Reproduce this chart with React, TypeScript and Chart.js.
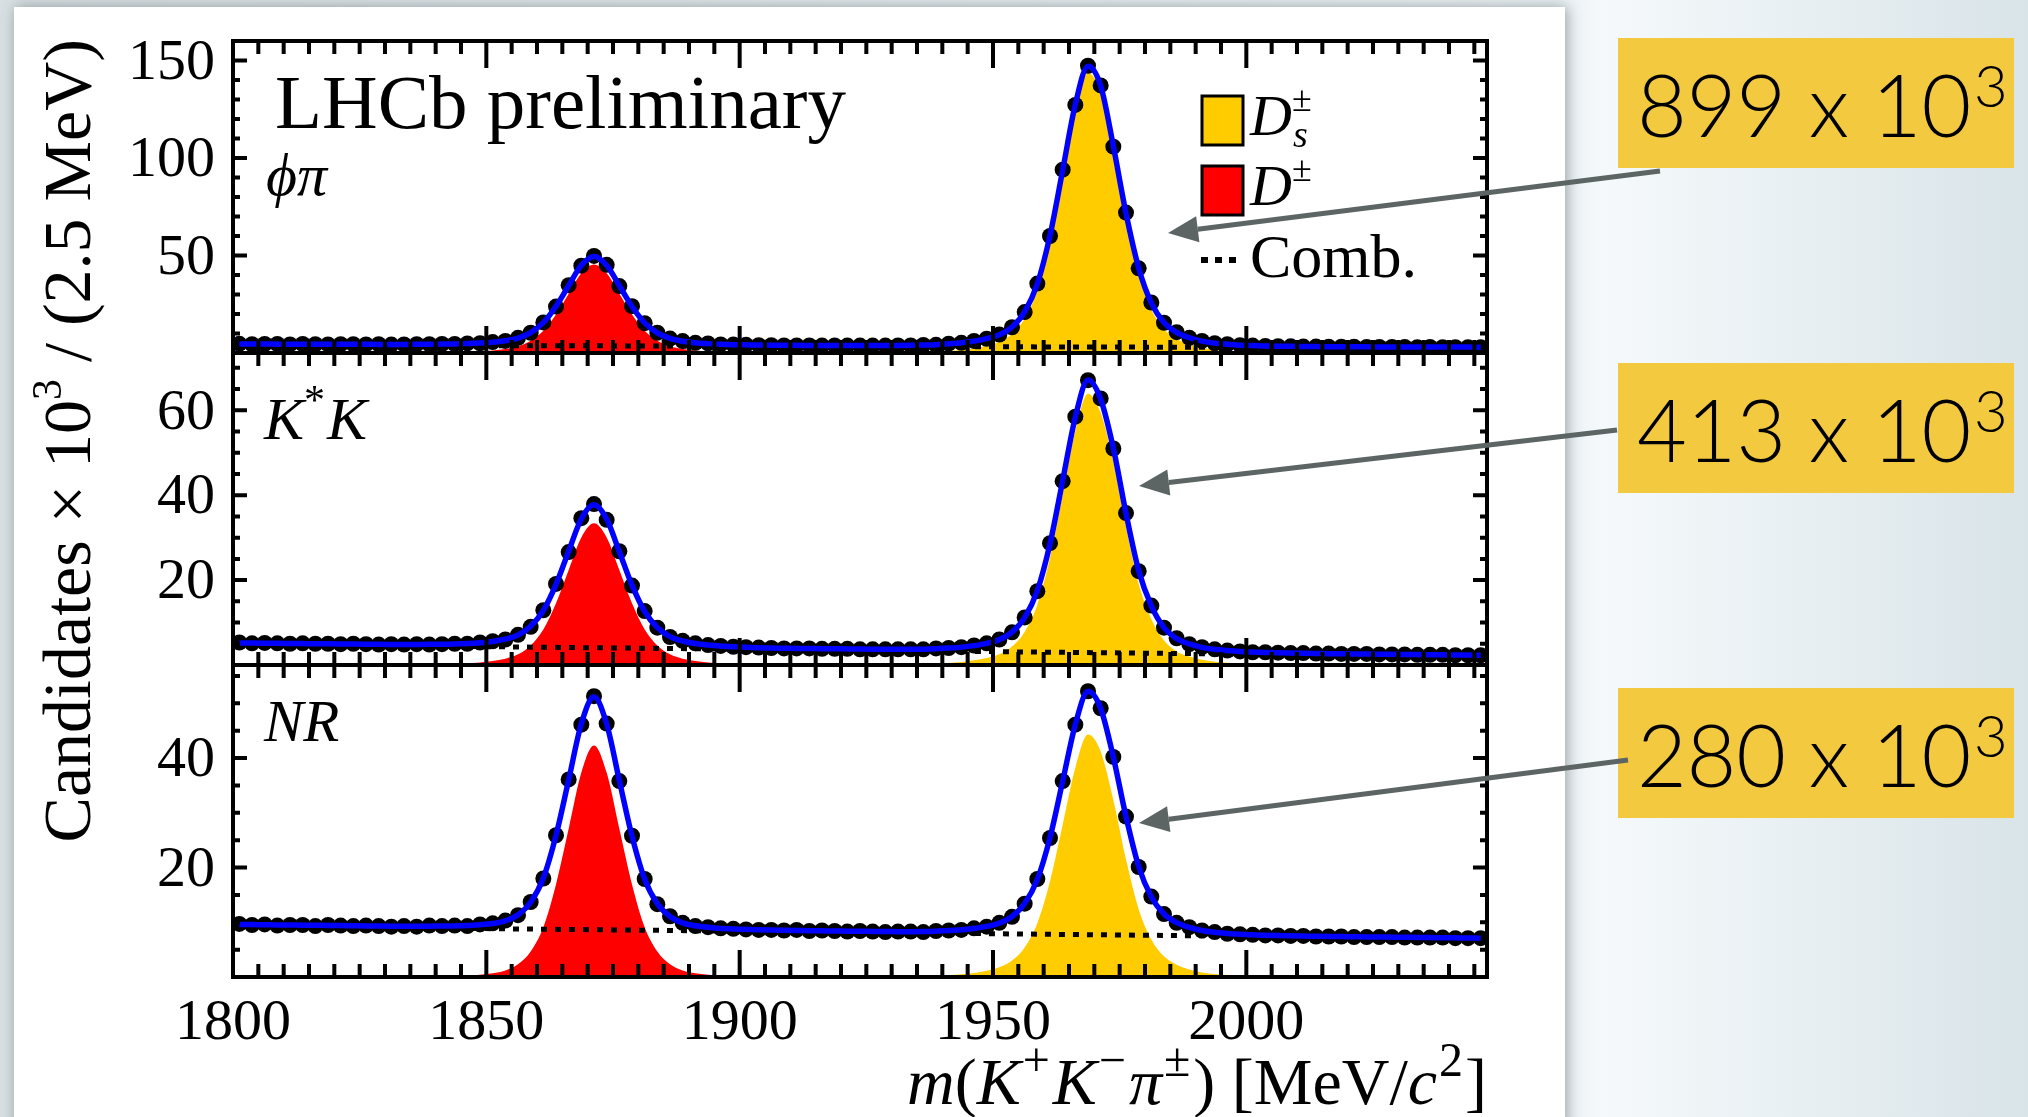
import React, { useEffect, useRef } from 'react';
import { Chart, registerables } from 'chart.js';

Chart.register(...registerables);

const W = 2028;
const H = 1117;
const SERIF = '"Liberation Serif", "Times New Roman", Times, serif';
const SANS = '"Lato Light", Lato, "Open Sans", "Noto Sans", sans-serif';

// ---------- data ----------
const binCenters = [
  1801.25, 1803.75, 1806.25, 1808.75, 1811.25, 1813.75, 1816.25, 1818.75, 1821.25, 1823.75,
  1826.25, 1828.75, 1831.25, 1833.75, 1836.25, 1838.75, 1841.25, 1843.75, 1846.25, 1848.75,
  1851.25, 1853.75, 1856.25, 1858.75, 1861.25, 1863.75, 1866.25, 1868.75, 1871.25, 1873.75,
  1876.25, 1878.75, 1881.25, 1883.75, 1886.25, 1888.75, 1891.25, 1893.75, 1896.25, 1898.75,
  1901.25, 1903.75, 1906.25, 1908.75, 1911.25, 1913.75, 1916.25, 1918.75, 1921.25, 1923.75,
  1926.25, 1928.75, 1931.25, 1933.75, 1936.25, 1938.75, 1941.25, 1943.75, 1946.25, 1948.75,
  1951.25, 1953.75, 1956.25, 1958.75, 1961.25, 1963.75, 1966.25, 1968.75, 1971.25, 1973.75,
  1976.25, 1978.75, 1981.25, 1983.75, 1986.25, 1988.75, 1991.25, 1993.75, 1996.25, 1998.75,
  2001.25, 2003.75, 2006.25, 2008.75, 2011.25, 2013.75, 2016.25, 2018.75, 2021.25, 2023.75,
  2026.25, 2028.75, 2031.25, 2033.75, 2036.25, 2038.75, 2041.25, 2043.75, 2046.25,
];

// phi pi panel
const dataPhiPi = [
  4.7, 4.5, 4.6, 4.6, 4.4, 4.6, 4.5, 4.4, 4.5, 4.5,
  4.4, 4.5, 4.3, 4.4, 4.5, 4.5, 4.6, 4.6, 4.9, 5.0,
  5.6, 6.2, 7.8, 10.4, 15.7, 23.8, 34.8, 44.8, 49.8, 45.2,
  34.3, 24.0, 15.3, 10.4, 7.4, 6.1, 5.2, 4.9, 4.4, 4.3,
  4.2, 4.0, 4.0, 3.9, 3.9, 3.9, 3.8, 3.9, 3.8, 3.8,
  3.8, 3.8, 3.9, 3.9, 4.1, 4.2, 4.8, 5.2, 6.2, 7.3,
  9.5, 13.2, 21.0, 35.6, 60.0, 94.0, 127.2, 147.3, 137.2, 105.8,
  72.0, 43.4, 25.9, 15.5, 10.7, 7.8, 6.2, 5.0, 4.5, 4.0,
  3.8, 3.6, 3.5, 3.4, 3.3, 3.3, 3.2, 3.2, 3.2, 3.1,
  3.1, 3.1, 3.1, 3.0, 3.1, 3.0, 3.0, 3.0, 3.0,
];
const fitPhiPi = [
  4.60, 4.58, 4.57, 4.55, 4.53, 4.52, 4.50, 4.49, 4.47, 4.45,
  4.44, 4.42, 4.41, 4.41, 4.43, 4.48, 4.57, 4.64, 4.81, 5.11,
  5.54, 6.30, 7.65, 10.49, 15.56, 23.94, 34.60, 45.02, 49.54, 44.99,
  34.53, 23.84, 15.43, 10.33, 7.45, 6.07, 5.28, 4.81, 4.48, 4.28,
  4.18, 4.08, 4.01, 3.96, 3.92, 3.89, 3.86, 3.84, 3.82, 3.81,
  3.80, 3.82, 3.85, 3.93, 4.06, 4.27, 4.70, 5.25, 6.09, 7.37,
  9.36, 13.36, 21.11, 35.45, 60.27, 93.72, 127.45, 147.11, 137.04, 106.14,
  71.67, 43.65, 25.68, 15.62, 10.57, 7.83, 6.09, 5.06, 4.48, 4.03,
  3.80, 3.62, 3.50, 3.40, 3.33, 3.27, 3.23, 3.20, 3.17, 3.15,
  3.13, 3.11, 3.10, 3.08, 3.07, 3.05, 3.03, 3.02, 3.00,
];
const dPhiPi = [0.23, 0.32, 0.50, 0.82, 1.27, 2.04, 3.41, 6.27, 11.35, 19.75, 30.42, 40.86, 45.40, 40.86, 30.42, 19.75, 11.35, 6.27, 3.41, 2.04, 1.27, 0.82, 0.50, 0.32, 0.23];
const dsPhiPi = [0.57, 1.01, 1.58, 2.44, 3.73, 5.74, 9.76, 17.52, 31.88, 56.72, 90.18, 123.93, 143.60, 133.55, 102.67, 68.21, 40.21, 22.26, 12.21, 7.18, 4.45, 2.73, 1.72, 1.15, 0.72];
const combPhiPi = [4.1, 2.6];

// K*K panel
const dataKK = [
  5.3, 5.1, 5.2, 5.1, 5.0, 5.1, 5.0, 5.0, 4.9, 5.0,
  4.9, 4.8, 4.9, 4.8, 4.9, 4.8, 4.9, 5.0, 5.0, 5.3,
  5.6, 6.0, 7.1, 9.0, 12.9, 19.1, 26.6, 34.6, 37.9, 34.2,
  26.8, 18.7, 12.7, 8.8, 6.6, 5.7, 5.1, 4.7, 4.5, 4.3,
  4.2, 4.1, 4.0, 3.9, 3.9, 3.9, 3.8, 3.8, 3.8, 3.7,
  3.7, 3.7, 3.7, 3.7, 3.7, 3.9, 4.0, 4.2, 4.6, 5.1,
  6.0, 7.7, 11.2, 17.4, 28.7, 43.3, 58.5, 67.1, 62.8, 51.0,
  35.8, 22.1, 14.0, 8.8, 6.3, 4.9, 4.2, 3.7, 3.4, 3.2,
  3.0, 3.0, 2.9, 2.8, 2.8, 2.7, 2.7, 2.6, 2.6, 2.6,
  2.5, 2.5, 2.5, 2.4, 2.4, 2.4, 2.3, 2.3, 2.3,
];
const fitKK = [
  5.20, 5.17, 5.14, 5.11, 5.08, 5.05, 5.02, 4.99, 4.96, 4.93,
  4.90, 4.87, 4.85, 4.84, 4.84, 4.86, 4.90, 4.93, 5.04, 5.24,
  5.55, 6.08, 7.06, 9.13, 12.84, 18.99, 26.81, 34.46, 37.77, 34.40,
  26.69, 18.81, 12.60, 8.83, 6.70, 5.66, 5.07, 4.71, 4.45, 4.28,
  4.19, 4.05, 3.99, 3.95, 3.91, 3.88, 3.85, 3.82, 3.79, 3.76,
  3.72, 3.70, 3.69, 3.69, 3.72, 3.83, 3.99, 4.21, 4.57, 5.11,
  5.98, 7.75, 11.17, 17.53, 28.55, 43.41, 58.40, 67.12, 62.62, 51.09,
  35.72, 22.27, 13.93, 8.79, 6.21, 4.96, 4.16, 3.69, 3.40, 3.18,
  3.05, 2.96, 2.89, 2.83, 2.77, 2.72, 2.67, 2.63, 2.60, 2.57,
  2.54, 2.51, 2.48, 2.45, 2.42, 2.39, 2.36, 2.33, 2.30,
];
const dKK = [0.17, 0.23, 0.37, 0.60, 0.94, 1.50, 2.51, 4.61, 8.35, 14.53, 22.38, 30.06, 33.40, 30.06, 22.38, 14.53, 8.35, 4.61, 2.51, 1.50, 0.94, 0.60, 0.37, 0.23, 0.17];
const dsKK = [0.26, 0.45, 0.70, 1.09, 1.66, 2.56, 4.35, 7.80, 14.19, 25.24, 40.13, 55.15, 63.90, 59.43, 47.93, 32.59, 19.17, 10.86, 5.75, 3.20, 1.98, 1.21, 0.77, 0.51, 0.32];
const combKK = [4.9, 2.0];

// NR panel
const dataNR = [
  9.7, 9.5, 9.6, 9.4, 9.5, 9.5, 9.3, 9.5, 9.4, 9.3,
  9.4, 9.3, 9.2, 9.3, 9.2, 9.4, 9.3, 9.4, 9.3, 9.6,
  9.8, 10.3, 11.3, 13.7, 18.0, 25.9, 36.1, 46.1, 51.3, 46.3,
  35.8, 25.8, 17.9, 13.3, 11.1, 9.9, 9.3, 9.1, 8.9, 8.8,
  8.7, 8.6, 8.6, 8.5, 8.6, 8.4, 8.5, 8.4, 8.3, 8.4,
  8.3, 8.2, 8.3, 8.3, 8.2, 8.4, 8.5, 8.6, 8.9, 9.2,
  9.9, 11.0, 13.4, 17.9, 25.4, 35.8, 46.1, 52.2, 49.1, 40.2,
  29.3, 20.1, 14.7, 11.5, 9.9, 9.1, 8.5, 8.2, 7.9, 7.8,
  7.7, 7.6, 7.6, 7.5, 7.5, 7.4, 7.4, 7.4, 7.3, 7.3,
  7.3, 7.3, 7.2, 7.2, 7.2, 7.2, 7.1, 7.1, 7.1,
];
const fitNR = [
  9.60, 9.57, 9.55, 9.52, 9.50, 9.47, 9.45, 9.42, 9.40, 9.37,
  9.34, 9.32, 9.29, 9.28, 9.28, 9.29, 9.32, 9.34, 9.39, 9.54,
  9.77, 10.24, 11.37, 13.66, 18.08, 25.88, 36.01, 46.26, 51.19, 46.21,
  35.90, 25.73, 17.87, 13.41, 11.06, 9.89, 9.36, 9.08, 8.88, 8.78,
  8.71, 8.64, 8.58, 8.54, 8.50, 8.46, 8.43, 8.40, 8.38, 8.35,
  8.32, 8.30, 8.28, 8.27, 8.30, 8.38, 8.48, 8.64, 8.87, 9.24,
  9.84, 11.05, 13.42, 17.82, 25.47, 35.76, 46.15, 52.19, 49.07, 40.18,
  29.30, 20.19, 14.63, 11.51, 9.93, 9.06, 8.50, 8.17, 7.96, 7.80,
  7.70, 7.63, 7.57, 7.52, 7.48, 7.44, 7.41, 7.38, 7.36, 7.33,
  7.30, 7.28, 7.25, 7.23, 7.20, 7.18, 7.15, 7.13, 7.10,
];
const dNR = [0.13, 0.17, 0.25, 0.42, 0.68, 1.18, 2.33, 4.65, 9.09, 16.92, 27.07, 37.35, 42.30, 37.35, 27.07, 16.92, 9.09, 4.65, 2.33, 1.18, 0.68, 0.42, 0.25, 0.17, 0.13];
const dsNR = [0.18, 0.31, 0.49, 0.75, 1.15, 1.77, 3.01, 5.40, 9.83, 17.50, 27.82, 38.23, 44.30, 41.20, 32.34, 21.49, 12.40, 6.87, 3.77, 2.22, 1.37, 0.84, 0.53, 0.35, 0.22];
const combNR = [9.3, 7.0];

const combMass = [1800, 2047.5];
const D_START = 16;
const DS_START = 55;

const xTickValues = [1800, 1850, 1900, 1950, 2000];
const xTickLabels = ['1800', '1850', '1900', '1950', '2000'];
const yTickValuesPhiPi = [50, 100, 150];
const yTickValuesKK = [20, 40, 60];
const yTickValuesNR = [20, 40];
const yieldLabels = ['899', '413', '280'];

// ---------- panel setup ----------
const panels = [
  { id: 'yNR', max: 57, major: 20, minor: 5, weight: 1, labels: yTickValuesNR, data: dataNR, fit: fitNR, d: dNR, ds: dsNR, comb: combNR },
  { id: 'yKK', max: 73.5, major: 20, minor: 5, weight: 2, labels: yTickValuesKK, data: dataKK, fit: fitKK, d: dKK, ds: dsKK, comb: combKK },
  { id: 'yPhi', max: 160, major: 50, minor: 10, weight: 3, labels: yTickValuesPhiPi, data: dataPhiPi, fit: fitPhiPi, d: dPhiPi, ds: dsPhiPi, comb: combPhiPi },
];

const X_MIN = 1800;
const X_MAX = 2047.5;

function buildDatasets() {
  const out: any[] = [];
  panels.forEach((p) => {
    out.push({
      label: 'fit', yAxisID: p.id, order: 0,
      data: binCenters.map((x, i) => ({ x, y: p.fit[i] })),
      borderColor: '#0000ff', borderWidth: 5.5, pointRadius: 0, fill: false,
      cubicInterpolationMode: 'monotone',
    });
    out.push({
      label: 'data', yAxisID: p.id, order: 1,
      data: binCenters.map((x, i) => ({ x, y: p.data[i] })),
      showLine: false, pointRadius: 8, pointBackgroundColor: '#000', pointBorderWidth: 0,
      borderColor: '#000',
    });
    out.push({
      label: 'comb', yAxisID: p.id, order: 2,
      data: combMass.map((x, i) => ({ x, y: p.comb[i] })),
      borderColor: '#000', borderWidth: 5, borderDash: [6, 8], pointRadius: 0, fill: false,
    });
    out.push({
      label: 'Ds', yAxisID: p.id, order: 3,
      data: p.ds.map((v, i) => ({ x: binCenters[DS_START + i], y: v })),
      borderColor: 'rgba(0,0,0,0)', borderWidth: 1, backgroundColor: '#ffcc00', fill: 'origin',
      pointRadius: 0, cubicInterpolationMode: 'monotone',
    });
    out.push({
      label: 'D', yAxisID: p.id, order: 4,
      data: p.d.map((v, i) => ({ x: binCenters[D_START + i], y: v })),
      borderColor: 'rgba(0,0,0,0)', borderWidth: 1, backgroundColor: '#ff0000', fill: 'origin',
      pointRadius: 0, cubicInterpolationMode: 'monotone',
    });
  });
  return out;
}

type Run = { t: string; it?: boolean; sup?: boolean; sub?: boolean; gap?: number };

function runFont(r: Run, size: number, supScale: number) {
  const s = r.sup || r.sub ? Math.round(size * supScale) : size;
  return `${r.it ? 'italic ' : ''}${s}px ${SERIF}`;
}
function runsWidth(ctx: CanvasRenderingContext2D, runs: Run[], size: number, supScale = 0.62) {
  let w = 0;
  runs.forEach((r) => { ctx.font = runFont(r, size, supScale); w += ctx.measureText(r.t).width + (r.gap || 0); });
  return w;
}
function drawRuns(ctx: CanvasRenderingContext2D, runs: Run[], x: number, y: number, size: number, supScale = 0.62) {
  let cx = x;
  runs.forEach((r) => {
    ctx.font = runFont(r, size, supScale);
    const dy = r.sup ? -size * 0.42 : r.sub ? size * 0.2 : 0;
    ctx.fillText(r.t, cx, y + dy);
    cx += ctx.measureText(r.t).width + (r.gap || 0);
  });
}

function drawArrow(ctx: CanvasRenderingContext2D, x1: number, y1: number, x2: number, y2: number) {
  const a = Math.atan2(y2 - y1, x2 - x1);
  const L = 30, hw = 13;
  const bx = x2 - L * Math.cos(a), by = y2 - L * Math.sin(a);
  ctx.strokeStyle = '#5d6564';
  ctx.fillStyle = '#5d6564';
  ctx.lineWidth = 5;
  ctx.beginPath();
  ctx.moveTo(x1, y1);
  ctx.lineTo(bx, by);
  ctx.stroke();
  ctx.beginPath();
  ctx.moveTo(x2, y2);
  ctx.lineTo(bx + hw * Math.sin(a), by - hw * Math.cos(a));
  ctx.lineTo(bx - hw * Math.sin(a), by + hw * Math.cos(a));
  ctx.closePath();
  ctx.fill();
}

const decorPlugin = {
  id: 'decor',
  beforeDraw(chart: any) {
    const ctx: CanvasRenderingContext2D = chart.ctx;
    ctx.save();
    const g = ctx.createLinearGradient(0, 0, W, 0);
    g.addColorStop(0, '#d7dfe2');
    g.addColorStop(0.77, '#eaf1f4');
    g.addColorStop(0.79, '#f5f9fb');
    g.addColorStop(1, '#d9e4e8');
    ctx.fillStyle = g;
    ctx.fillRect(0, 0, W, H);
    ctx.shadowColor = 'rgba(70,80,85,0.5)';
    ctx.shadowBlur = 14;
    ctx.shadowOffsetX = 2;
    ctx.fillStyle = '#ffffff';
    ctx.fillRect(14, 7, 1551, H + 40);
    ctx.restore();
  },
  afterDatasetsDraw(chart: any) {
    const ctx: CanvasRenderingContext2D = chart.ctx;
    const xs = chart.scales.x;
    const { left, right } = chart.chartArea;
    ctx.save();
    ctx.strokeStyle = '#000';
    ctx.fillStyle = '#000';
    ctx.lineCap = 'butt';

    // frames, ticks, tick labels
    panels.forEach((p) => {
      const ys = chart.scales[p.id];
      const top = ys.top, bottom = ys.bottom;
      ctx.lineWidth = 4;
      ctx.beginPath();
      for (let v = X_MIN + 5; v < X_MAX; v += 5) {
        const px = xs.getPixelForValue(v);
        const len = v % 50 === 0 ? 27 : 13;
        ctx.moveTo(px, bottom); ctx.lineTo(px, bottom - len);
        ctx.moveTo(px, top); ctx.lineTo(px, top + len);
      }
      for (let v = p.minor; v < p.max; v += p.minor) {
        const py = ys.getPixelForValue(v);
        const len = v % p.major === 0 ? 14 : 7;
        ctx.moveTo(left, py); ctx.lineTo(left + len, py);
        ctx.moveTo(right, py); ctx.lineTo(right - len, py);
      }
      ctx.stroke();
      ctx.strokeRect(left, top, right - left, bottom - top);

      ctx.font = `58px ${SERIF}`;
      ctx.textAlign = 'right';
      ctx.textBaseline = 'middle';
      p.labels.forEach((v) => {
        ctx.fillText(String(v), 215, ys.getPixelForValue(v) + 3);
      });
    });

    ctx.font = `58px ${SERIF}`;
    ctx.textAlign = 'center';
    ctx.textBaseline = 'alphabetic';
    xTickValues.forEach((v, i) => {
      ctx.fillText(xTickLabels[i], xs.getPixelForValue(v), 1039);
    });

    ctx.textAlign = 'left';
    ctx.textBaseline = 'alphabetic';

    // LHCb preliminary
    ctx.font = `77px ${SERIF}`;
    ctx.fillText('LHCb preliminary', 275, 128);

    // panel labels
    drawRuns(ctx, [{ t: 'ϕπ', it: true }], 266, 195, 60);
    drawRuns(ctx, [{ t: 'K', it: true }, { t: '*', sup: true, gap: 2 }, { t: 'K', it: true }], 264, 439, 60, 0.7);
    drawRuns(ctx, [{ t: 'NR', it: true }], 264, 741, 59);

    // legend
    ctx.lineWidth = 3;
    ctx.fillStyle = '#ffcc00';
    ctx.fillRect(1202, 96, 41, 49);
    ctx.strokeRect(1202, 96, 41, 49);
    ctx.fillStyle = '#ff0000';
    ctx.fillRect(1202, 166, 41, 49);
    ctx.strokeRect(1202, 166, 41, 49);
    ctx.fillStyle = '#000';
    ctx.font = `italic 58px ${SERIF}`;
    ctx.fillText('D', 1250, 135);
    const dW = ctx.measureText('D').width;
    ctx.font = `italic 38px ${SERIF}`;
    ctx.fillText('s', 1250 + dW + 1, 147);
    ctx.font = `36px ${SERIF}`;
    ctx.fillText('±', 1250 + dW, 111);
    ctx.font = `italic 58px ${SERIF}`;
    ctx.fillText('D', 1250, 205);
    ctx.font = `36px ${SERIF}`;
    ctx.fillText('±', 1250 + dW, 181);
    ctx.lineWidth = 6;
    ctx.setLineDash([7, 7]);
    ctx.beginPath();
    ctx.moveTo(1201, 260);
    ctx.lineTo(1243, 260);
    ctx.stroke();
    ctx.setLineDash([]);
    ctx.font = `62px ${SERIF}`;
    ctx.fillText('Comb.', 1250, 277);

    // y title
    const yRuns: Run[] = [
      { t: 'Candidates × 10' }, { t: '3', sup: true }, { t: ' / (2.5 MeV)' },
    ];
    const ySize = 68;
    const yw = runsWidth(ctx, yRuns, ySize);
    ctx.save();
    ctx.translate(90, 39);
    ctx.rotate(-Math.PI / 2);
    drawRuns(ctx, yRuns, -yw, 0, ySize);
    ctx.restore();

    // x title
    const xRuns: Run[] = [
      { t: 'm', it: true }, { t: '(' }, { t: 'K', it: true, gap: 2 }, { t: '+', sup: true, gap: 3 },
      { t: 'K', it: true, gap: 2 }, { t: '−', sup: true, gap: 3 }, { t: 'π', it: true, gap: 2 }, { t: '±', sup: true, gap: 3 },
      { t: ') [MeV/' }, { t: 'c', it: true, gap: 2 }, { t: '2', sup: true, gap: 2 }, { t: ']' },
    ];
    const xSize = 66;
    const xw = runsWidth(ctx, xRuns, xSize, 0.72);
    drawRuns(ctx, xRuns, right - xw, 1104, xSize, 0.72);

    // annotation boxes
    const boxTops = [38, 363, 688];
    boxTops.forEach((bt, i) => {
      ctx.fillStyle = '#f3c940';
      ctx.fillRect(1618, bt, 396, 130);
      ctx.fillStyle = '#000';
      const main = `${yieldLabels[i]} x 10`;
      ctx.font = `300 86px ${SANS}`;
      (ctx as any).letterSpacing = '0px';
      const w0 = ctx.measureText(main).width;
      const ls = (334 - w0) / main.length;
      (ctx as any).letterSpacing = `${ls}px`;
      ctx.fillText(main, 1637, bt + 99);
      (ctx as any).letterSpacing = '0px';
      ctx.font = `300 58px ${SANS}`;
      ctx.fillText('3', 1974, bt + 69);
    });

    // arrows
    drawArrow(ctx, 1660, 171, 1168, 233);
    drawArrow(ctx, 1617, 430, 1139, 486);
    drawArrow(ctx, 1628, 760, 1139, 823);

    ctx.restore();
  },
};

function buildConfig(): any {
  const scales: any = {
    x: {
      type: 'linear', position: 'bottom', min: X_MIN, max: X_MAX,
      grid: { display: false, drawTicks: false }, border: { display: false },
      ticks: { display: false },
      afterFit: (s: any) => { s.height = 80; },
    },
  };
  panels.forEach((p) => {
    scales[p.id] = {
      type: 'linear', position: 'left', stack: 'panels', stackWeight: 1, weight: p.weight,
      min: 0, max: p.max,
      grid: { display: false, drawTicks: false }, border: { display: false },
      ticks: { display: false },
      afterFit: (s: any) => { s.width = 150; },
    };
  });
  return {
    type: 'line',
    data: { datasets: buildDatasets() },
    options: {
      responsive: false,
      animation: false,
      devicePixelRatio: 1,
      events: [],
      layout: { padding: { left: 83, right: 541, top: 41, bottom: 60 } },
      plugins: { legend: { display: false }, tooltip: { enabled: false }, title: { display: false } },
      scales,
    },
    plugins: [decorPlugin],
  };
}

export default function App() {
  const ref = useRef<HTMLCanvasElement>(null);
  useEffect(() => {
    const canvas = ref.current;
    if (!canvas) return;
    const chart = new Chart(canvas, buildConfig());
    return () => chart.destroy();
  }, []);
  return (
    <div style={{ position: 'absolute', left: 0, top: 0, width: W, height: H, overflow: 'hidden' }}>
      <canvas ref={ref} width={W} height={H} style={{ display: 'block', width: W, height: H }} />
    </div>
  );
}
